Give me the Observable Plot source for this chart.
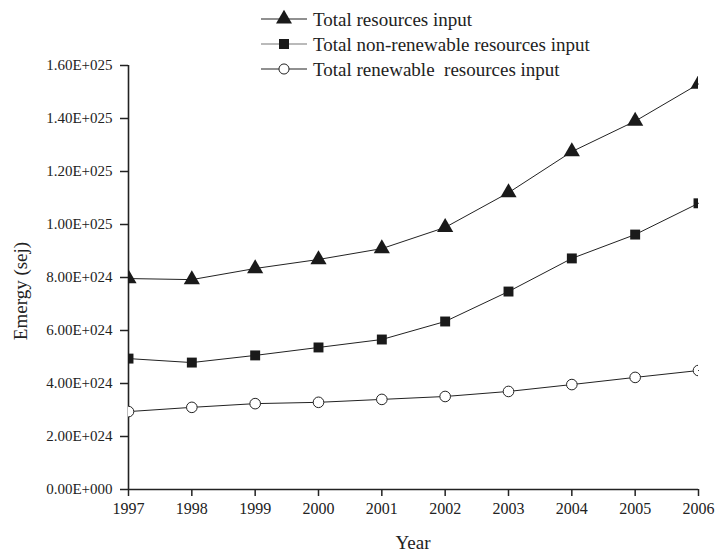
<!DOCTYPE html>
<html>
<head>
<meta charset="utf-8">
<script src="https://cdn.jsdelivr.net/npm/d3@7"></script>
<script src="https://cdn.jsdelivr.net/npm/@observablehq/plot@0.6"></script>
<style>
  body { margin: 0; background: white; }
  #wrap { position: relative; width: 717px; height: 551px; font-family: "Liberation Serif", "Times New Roman", serif; color: #222; }
  #chart { position: absolute; left: 0; top: 0; }
  #legend { position: absolute; left: 0; top: 0; pointer-events: none; }
  .atitle { position: absolute; font-size: 19px; white-space: nowrap; line-height: 1; }
</style>
</head>
<body>
<div id="wrap">
  <div id="chart"></div>
  <svg id="legend" width="717" height="90"></svg>
  <div class="atitle" id="ytitle">Emergy (sej)</div>
  <div class="atitle" id="xtitle">Year</div>
</div>
<script>
const years = [1997, 1998, 1999, 2000, 2001, 2002, 2003, 2004, 2005, 2006];
const totalInput = [7.96e24, 7.92e24, 8.34e24, 8.68e24, 9.09e24, 9.89e24, 1.12e25, 1.275e25, 1.39e25, 1.53e25];
const nonRenewableInput = [4.94e24, 4.79e24, 5.06e24, 5.36e24, 5.66e24, 6.34e24, 7.47e24, 8.72e24, 9.62e24, 1.08e25];
const renewableInput = [2.94e24, 3.10e24, 3.24e24, 3.29e24, 3.40e24, 3.51e24, 3.70e24, 3.96e24, 4.23e24, 4.49e24];
const seriesNames = ["Total resources input", "Total non-renewable resources input", "Total renewable  resources input"];
const yTicks = [0, 2e24, 4e24, 6e24, 8e24, 1e25, 1.2e25, 1.4e25, 1.6e25];

const rows = [];
[totalInput, nonRenewableInput, renewableInput].forEach((arr, i) => {
  arr.forEach((v, j) => rows.push({year: years[j], value: v, series: seriesNames[i]}));
});
const rowsOf = name => rows.filter(r => r.series === name);

function sci(v) {
  if (v === 0) return "0.00E+000";
  const e = Math.floor(Math.log10(v) + 1e-9);
  const m = v / Math.pow(10, e);
  return m.toFixed(2) + "E+" + String(e).padStart(3, "0");
}

const ink = "#222";
const plot = Plot.plot({
  width: 717,
  height: 551,
  marginLeft: 128,
  marginRight: 19,
  marginTop: 65,
  marginBottom: 62,
  style: {fontFamily: "Liberation Serif, Times New Roman, serif", fontSize: "15px", color: ink, background: "white", overflow: "visible"},
  x: {domain: [1997, 2006]},
  y: {domain: [0, 1.6e25]},
  marks: [
    Plot.axisX({ticks: years, tickFormat: d => String(d), tickSize: 7, tickPadding: 6, label: null, strokeWidth: 1.5, fontSize: 16}),
    Plot.axisY({ticks: yTicks, tickFormat: sci, tickSize: 8, tickPadding: 8, label: null, strokeWidth: 1.5, fontSize: 15}),
    Plot.ruleX([1997], {stroke: ink, strokeWidth: 1.6}),
    Plot.ruleY([0], {stroke: ink, strokeWidth: 1.6}),
    Plot.line(rows, {x: "year", y: "value", z: "series", stroke: ink, strokeWidth: 1}),
    Plot.dot(rowsOf(seriesNames[0]), {x: "year", y: "value", symbol: "triangle", r: 6, fill: "#1a1a1a", stroke: "none", clip: true}),
    Plot.dot(rowsOf(seriesNames[1]), {x: "year", y: "value", symbol: "square", r: 5.6, fill: "#1a1a1a", stroke: "none", clip: true}),
    Plot.dot(rowsOf(seriesNames[2]), {x: "year", y: "value", symbol: "circle", r: 5.3, fill: "white", stroke: ink, strokeWidth: 1, clip: true})
  ]
});
document.getElementById("chart").appendChild(plot);

// axis titles
const yt = document.getElementById("ytitle");
yt.style.left = "20px"; yt.style.top = "291px";
yt.style.transform = "translate(-50%, -50%) rotate(-90deg)";
const xt = document.getElementById("xtitle");
xt.style.left = "413px"; xt.style.top = "542px";
xt.style.transform = "translate(-50%, -50%)";

// legend
const leg = d3.select("#legend");
const symbols = [d3.symbolTriangle, d3.symbolSquare, d3.symbolCircle];
const sizes = [110, 100, 80];
const lineColors = [ink, "#777", ink];
seriesNames.forEach((name, i) => {
  const cy = 19 + i * 25;
  const g = leg.append("g");
  g.append("line").attr("x1", 261).attr("x2", 307).attr("y1", cy).attr("y2", cy)
    .attr("stroke", lineColors[i]).attr("stroke-width", 1.2);
  g.append("path").attr("d", d3.symbol(symbols[i], sizes[i])())
    .attr("transform", `translate(284,${cy})`)
    .attr("fill", i === 2 ? "white" : "#1a1a1a")
    .attr("stroke", i === 2 ? ink : "none");
  g.append("text").attr("x", 313).attr("y", cy).attr("dy", "0.35em")
    .attr("font-family", "Liberation Serif, Times New Roman, serif")
    .attr("font-size", 19).attr("fill", ink)
    .attr("xml:space", "preserve").style("white-space", "pre")
    .text(name);
});
</script>
</body>
</html>
